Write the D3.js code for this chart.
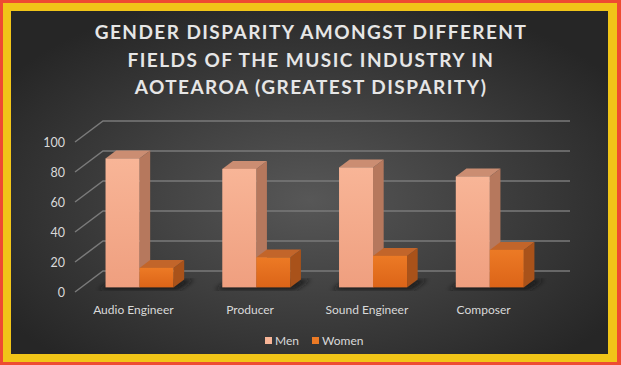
<!DOCTYPE html>
<html>
<head>
<meta charset="utf-8">
<script src="https://cdnjs.cloudflare.com/ajax/libs/d3/7.8.5/d3.min.js"></script>
<style>
  html, body { margin: 0; padding: 0; background: #fff; }
  svg { display: block; }
</style>
</head>
<body>
<div id="chart"></div>
<script>
var titleLines = ['GENDER DISPARITY AMONGST DIFFERENT', 'FIELDS OF THE MUSIC INDUSTRY IN', 'AOTEAROA (GREATEST DISPARITY)'];
var categories = ['Audio Engineer', 'Producer', 'Sound Engineer', 'Composer'];
var seriesNames = ['Men', 'Women'];
var men = [86, 79, 80, 74];
var women = [13, 20, 21, 25];
var yTicks = [0, 20, 40, 60, 80, 100];

var W = 621, H = 365;
var depth = { dx: 28, dy: -21 };   // floor depth offset, front -> back wall
var barD0 = 0.22, barD1 = 0.6;     // where the bars sit in the depth

var colors = {
    Men:   { front: ['#f8b597', '#ef9f7f'], side: '#b6785d', top: '#cb8d72' },
    Women: { front: ['#ec7a25', '#dc6418'], side: '#a9521a', top: '#c2652a' }
};

var svg = d3.select('#chart').append('svg').attr('width', W).attr('height', H);
var defs = svg.append('defs');

var bg = defs.append('radialGradient').attr('id', 'bg')
    .attr('cx', '50%').attr('cy', '55%').attr('r', '62%');
bg.append('stop').attr('offset', '0%').attr('stop-color', '#575757');
bg.append('stop').attr('offset', '100%').attr('stop-color', '#262626');

seriesNames.forEach(function(s) {
    var g = defs.append('linearGradient').attr('id', 'front-' + s)
        .attr('x1', 0).attr('y1', 0).attr('x2', 0).attr('y2', 1);
    g.append('stop').attr('offset', '0%').attr('stop-color', colors[s].front[0]);
    g.append('stop').attr('offset', '100%').attr('stop-color', colors[s].front[1]);
});
defs.append('filter').attr('id', 'blur').append('feGaussianBlur').attr('stdDeviation', 2.5);

// frame: red edge, yellow band, dark panel
svg.append('rect').attr('width', W).attr('height', H).attr('fill', '#ee4b32');
svg.append('rect').attr('x', 3).attr('y', 3).attr('width', W - 7).attr('height', H - 6).attr('fill', '#f1c518');
svg.append('rect').attr('x', 11).attr('y', 11).attr('width', 597).attr('height', 343).attr('fill', 'url(#bg)');

// title
svg.append('g').selectAll('text').data(titleLines).enter().append('text')
    .attr('x', 311)
    .attr('y', function(d, i) { return 39 + i * 27.5; })
    .attr('text-anchor', 'middle')
    .style('font-family', 'Lato, "Open Sans", sans-serif')
    .style('font-weight', 700)
    .style('font-size', '19px')
    .style('letter-spacing', '1.45px')
    .attr('fill', '#e6e6e6')
    .text(function(d) { return d; });

// scales
var x = d3.scaleBand().domain(categories).range([75, 542]);
var y = d3.scaleLinear().domain([0, 100]).range([292, 142]);
var inner = d3.scaleBand().domain(seriesNames).range([0, 68]);
var pad = (x.bandwidth() - 68) / 2;

function pt(px, v, d) {
    return [px + d * depth.dx, y(v) + d * depth.dy];
}

// walls: gridlines on side wall and back wall
var grid = svg.append('g').attr('stroke', '#7a7a7a').attr('stroke-width', 1.5).attr('fill', 'none');
var x0 = x.range()[0], x1 = x.range()[1];
yTicks.forEach(function(t) {
    var a = pt(x0, t, 0), b = pt(x0, t, 1), c = pt(x1, t, 1);
    grid.append('polyline').attr('points', [a, b, c].map(function(p) { return p.join(','); }).join(' '));
});

// tick labels
svg.append('g').selectAll('text').data(yTicks).enter().append('text')
    .attr('x', 65)
    .attr('y', function(d) { return y(d) + 4.5; })
    .attr('text-anchor', 'end')
    .style('font-family', 'Lato, "Open Sans", sans-serif')
    .style('font-size', '12.5px')
    .attr('fill', '#d9d9d9')
    .text(function(d) { return d; });

// bars
var bars = [];
categories.forEach(function(c, i) {
    bars.push({ cat: c, s: 'Men', v: men[i] });
    bars.push({ cat: c, s: 'Women', v: women[i] });
});

function poly(pts) { return pts.map(function(p) { return p.join(','); }).join(' '); }

var shadowG = svg.append('g').attr('filter', 'url(#blur)');
categories.forEach(function(c) {
    var l = x(c) + pad - 6, r = x(c) + pad + 68 + 6;
    shadowG.append('polygon')
        .attr('points', poly([pt(l, -1, barD0 - 0.05), pt(r, -1, barD0 - 0.05), pt(r + 4, 0, barD1), pt(l + 4, 0, barD1)]))
        .attr('fill', '#141414').attr('opacity', 0.85);
});

var barG = svg.append('g').selectAll('g').data(bars).enter().append('g');
barG.each(function(d) {
    var g = d3.select(this);
    var l = x(d.cat) + pad + inner(d.s), r = l + inner.bandwidth();
    // right side face
    g.append('polygon').attr('fill', colors[d.s].side)
        .attr('points', poly([pt(r, 0, barD0), pt(r, 0, barD1), pt(r, d.v, barD1), pt(r, d.v, barD0)]));
    // top face
    g.append('polygon').attr('fill', colors[d.s].top)
        .attr('points', poly([pt(l, d.v, barD0), pt(r, d.v, barD0), pt(r, d.v, barD1), pt(l, d.v, barD1)]));
    // front face
    var a = pt(l, d.v, barD0), b = pt(r, 0, barD0);
    g.append('rect').attr('x', a[0]).attr('y', a[1])
        .attr('width', b[0] - a[0]).attr('height', b[1] - a[1])
        .attr('fill', 'url(#front-' + d.s + ')');
});

// category labels
svg.append('g').selectAll('text').data(categories).enter().append('text')
    .attr('x', function(d) { return x(d) + x.bandwidth() / 2; })
    .attr('y', 314)
    .attr('text-anchor', 'middle')
    .style('font-family', 'Lato, "Open Sans", sans-serif')
    .style('font-size', '12px')
    .attr('fill', '#d9d9d9')
    .text(function(d) { return d; });

// legend
var legendX = [265, 312];
var lg = svg.append('g').selectAll('g').data(seriesNames).enter().append('g')
    .attr('transform', function(d, i) { return 'translate(' + legendX[i] + ',337)'; });
lg.append('rect').attr('width', 7).attr('height', 7)
    .attr('fill', function(d) { return colors[d].front[0]; });
lg.append('text').attr('x', 10).attr('y', 7.5)
    .style('font-family', 'Lato, "Open Sans", sans-serif')
    .style('font-size', '12px')
    .attr('fill', '#d9d9d9')
    .text(function(d) { return d; });
</script>
</body>
</html>
